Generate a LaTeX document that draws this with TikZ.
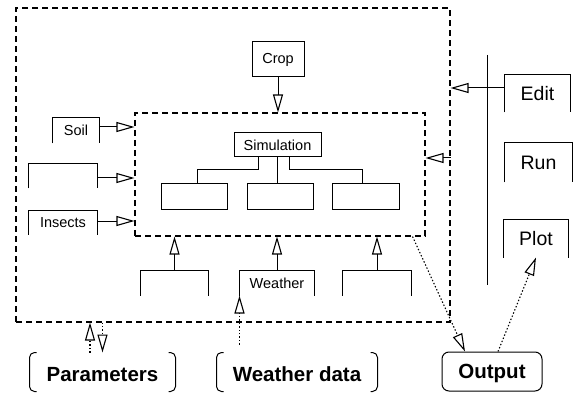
\documentclass[tikz,border=0pt]{standalone}
\usepackage{fontspec}
\setmainfont{Liberation Sans}
\usetikzlibrary{arrows.meta}
\begin{document}
\begin{tikzpicture}[x=1pt,y=-1pt,
  line width=1pt,
  small/.style={font=\fontsize{14.5}{16}\selectfont},
  mid/.style={font=\fontsize{19.5}{22}\selectfont},
  big/.style={font=\fontsize{20.5}{23}\selectfont\bfseries, text height=19pt},
  box/.style={draw, inner sep=0pt},
  openbox/.style={inner sep=0pt},
  dashbox/.style={draw, dash pattern=on 6pt off 4pt, line width=1.1pt, inner sep=0pt},
  arr/.style={-{Triangle[open,length=18pt,width=10pt,line width=1.1pt]}},
  dotline/.style={dash pattern=on 1.4pt off 2pt, line width=1.1pt},
]
\useasboundingbox (0,0) rectangle (584,393);

% model frame and simulation frame
\node[dashbox, minimum width=434pt, minimum height=314pt] (outer) at (233,165) {};
\node[dashbox, minimum width=290pt, minimum height=123pt] (inner) at (280,174.5) {};

% closed boxes
\node[box, small, minimum width=52pt, minimum height=35pt] (crop) at (278,59.5) {Crop};
\node[box, small, minimum width=87pt, minimum height=24pt] (sim) at (277.5,145) {Simulation};
\node[box, minimum width=66pt, minimum height=25pt] (m1) at (194,196.5) {};
\node[box, minimum width=66pt, minimum height=25pt] (m2) at (280,196.5) {};
\node[box, minimum width=67pt, minimum height=25pt] (m3) at (365.5,196.5) {};

% boxes open at the bottom
\node[openbox, small, minimum width=46pt, minimum height=25pt] (soil) at (76,130.5) {Soil};
\node[openbox, minimum width=68pt, minimum height=24pt] (gen) at (63,176) {};
\node[openbox, small, minimum width=68pt, minimum height=23pt] (insects) at (63,222.5) {Insects};
\node[openbox, minimum width=67pt, minimum height=24pt] (lowA) at (174.5,283) {};
\node[openbox, small, minimum width=74pt, minimum height=24pt] (weather) at (277,283) {Weather};
\node[openbox, minimum width=68pt, minimum height=24pt] (lowC) at (377,283) {};
\node[openbox, mid, minimum width=65pt, minimum height=37pt] (edit) at (537.5,93.5) {Edit};
\node[openbox, mid, minimum width=67pt, minimum height=39pt] (run) at (538.5,162.5) {Run};
\node[openbox, mid, minimum width=64pt, minimum height=37pt] (plot) at (536,238.5) {Plot};
\foreach \n in {soil,gen,insects,lowA,weather,lowC,edit,run,plot}
  \draw (\n.south west) |- (\n.north) -| (\n.south east);

% data sources and output
\node[openbox, big, minimum width=145pt, minimum height=38pt] (par) at (102.5,372) {Parameters};
\node[openbox, big, minimum width=160pt, minimum height=38pt] (wd) at (297,372) {Weather data};
\node[box, big, rounded corners=7pt, minimum width=100pt, minimum height=39pt] (out) at (492,371.5) {Output};
\foreach \n in {par,wd}{
  \draw[rounded corners=5pt] ([xshift=7pt]\n.north west) -- (\n.north west)
    -- (\n.south west) -- ([xshift=7pt]\n.south west);
  \draw[rounded corners=5pt] ([xshift=-7pt]\n.north east) -- (\n.north east)
    -- (\n.south east) -- ([xshift=-7pt]\n.south east);
}

% menu bar
\coordinate (bartop) at (487,55);
\coordinate (barbot) at (487,285);
\draw (bartop) -- (barbot);

% connectors
\draw[arr] (crop.south) -- (crop.south |- inner.north);
\draw[arr] ([yshift=3.5pt]soil.east) -- ([yshift=3.5pt]soil.east -| inner.west);
\draw[arr] ([yshift=-2pt]gen.east) -- ([yshift=-2pt]gen.east -| inner.west);
\draw[arr] ([yshift=1.5pt]insects.east) -- ([yshift=1.5pt]insects.east -| inner.west);

\draw ([xshift=-19.5pt]sim.south) -- ++(0,12) -| ([xshift=3pt]m1.north);
\draw (sim.south) -- (sim.south |- m2.north);
\draw ([xshift=11.5pt]sim.south) -- ++(0,12) -| ([xshift=-3.5pt]m3.north);

\foreach \n in {lowA,weather,lowC}
  \draw[arr] (\n.north) -- (\n.north |- inner.south);

\draw[arr] ([yshift=5.5pt]edit.west) -- ([yshift=5.5pt]edit.west -| outer.east);
\draw[arr] ([yshift=16.5pt]inner.east -| outer.east) -- ([yshift=16.5pt]inner.east);

\draw[dotline, arr] ([xshift=-12.5pt]par.north) -- ([xshift=-12.5pt]par.north |- outer.south);
\draw[dotline, arr] (par.north |- outer.south) -- (par.north);
\draw[dotline, arr] ([yshift=8pt]wd.north -| weather.west) -- (weather.south west);
\draw[dotline, arr] ([xshift=-13pt]inner.south east) -- ([xshift=-27pt]out.north);
\draw[dotline, arr] ([xshift=6pt]out.north) -- (plot.south);
\end{tikzpicture}
\end{document}
